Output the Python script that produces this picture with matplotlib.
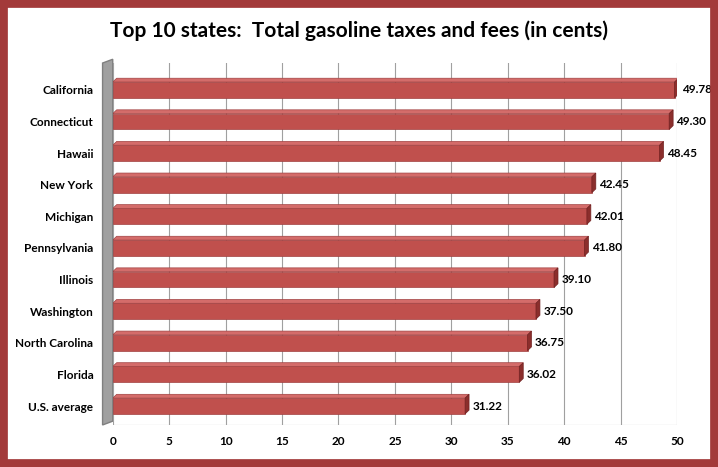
import matplotlib.pyplot as plt
from matplotlib.patches import Polygon, Rectangle

states = ["California", "Connecticut", "Hawaii", "New York", "Michigan",
          "Pennsylvania", "Illinois", "Washington", "North Carolina",
          "Florida", "U.S. average"]
taxes = [49.78, 49.30, 48.45, 42.45, 42.01, 41.80, 39.10, 37.50, 36.75, 36.02, 31.22]

plt.rcParams['font.family'] = ['Lato', 'DejaVu Sans']

fig = plt.figure(figsize=(7.18, 4.67), dpi=100)
fig.patches.append(Rectangle((0.004, 0.006), 0.992, 0.988, transform=fig.transFigure,
                             fill=False, edgecolor='#A33A3A', linewidth=7))
ax = fig.add_axes([0.157, 0.09, 0.786, 0.775])

n = len(states)
ypos = list(range(n - 1, -1, -1))
h = 0.5
dx, dy = 0.35, 0.12  # 3D depth in data units
ytop = n - 0.15

# left gray wall
ax.add_patch(Polygon([(-0.9, -0.6), (0, -0.6 + dy), (0, ytop + dy), (-0.9, ytop)],
                     closed=True, facecolor='#A0A0A0', edgecolor='#808080', clip_on=False))

for y, v in zip(ypos, taxes):
    ax.barh(y, v, height=h, color='#C0504D', edgecolor='#A04040', linewidth=0.5, zorder=3)
    top = [(0, y + h / 2), (dx, y + h / 2 + dy), (v + dx, y + h / 2 + dy), (v, y + h / 2)]
    ax.add_patch(Polygon(top, closed=True, facecolor='#D46C6A', edgecolor='#A04040',
                         linewidth=0.5, zorder=3))
    side = [(v, y - h / 2), (v + dx, y - h / 2 + dy), (v + dx, y + h / 2 + dy), (v, y + h / 2)]
    ax.add_patch(Polygon(side, closed=True, facecolor='#8B2E2C', edgecolor='#702020',
                         linewidth=0.5, zorder=3))
    ax.text(v + dx + 0.3, y, f"{v:.2f}", va='center', ha='left', fontsize=8.5,
            fontweight='bold', zorder=4)

ax.set_xlim(0, 50)
ax.set_ylim(-0.6, ytop)
ax.set_xticks(range(0, 51, 5))
ax.set_yticks(ypos)
ax.set_yticklabels(states, fontsize=8.5, fontweight='bold')
for lab in ax.get_xticklabels():
    lab.set_fontweight('bold')
    lab.set_fontsize(8.5)
ax.tick_params(axis='y', length=0, pad=14)
ax.tick_params(axis='x', length=0, pad=8)
ax.grid(axis='x', color='#A0A0A0', linewidth=0.8, zorder=0)
for s in ax.spines.values():
    s.set_visible(False)
ax.axhline(-0.6, color='#A0A0A0', linewidth=0.8, xmin=0, xmax=1)

fig.text(0.5, 0.935, "Top 10 states:  Total gasoline taxes and fees (in cents)",
         ha='center', va='center', fontsize=15, fontweight='bold')

fig.savefig("out.png", dpi=100)
